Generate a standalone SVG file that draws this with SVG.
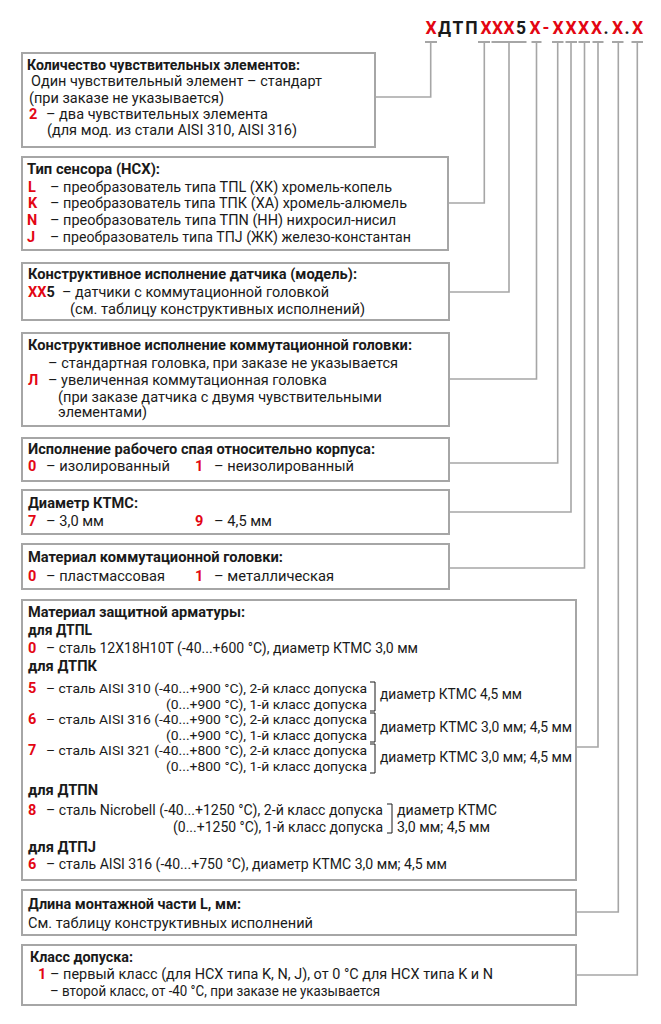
<svg xmlns="http://www.w3.org/2000/svg" width="661" height="1024" viewBox="0 0 661 1024">
<style>
.box{fill:#fff;stroke:#a6a6a6;stroke-width:2}
.ln{fill:none;stroke:#a6a6a6;stroke-width:1.6}
.tick{fill:none;stroke:#a6a6a6;stroke-width:2}
text{font-family:Roboto,"Liberation Sans",sans-serif;font-size:14.5px;fill:#1a1a1a}
.b{font-weight:bold}
.r{fill:#e30613;font-weight:bold}
.k{fill:#1a1a1a;font-weight:bold}
.s{font-size:13px}
.hd{font-size:17.5px;font-weight:900;text-anchor:middle}
.br{fill:none;stroke:#1a1a1a;stroke-width:1}
</style>
<rect width="661" height="1024" fill="#fff"/>

<g id="header">
<text class="hd" y="33.5"><tspan class="r" x="431">Х</tspan><tspan class="k" x="444.5">Д</tspan><tspan class="k" x="458">Т</tspan><tspan class="k" x="471.5">П</tspan><tspan class="r" x="486">X</tspan><tspan class="r" x="497.5">X</tspan><tspan class="r" x="509">X</tspan><tspan class="k" x="521">5</tspan><tspan class="r" x="535">X</tspan><tspan class="r" x="546">-</tspan><tspan class="r" x="558">X</tspan><tspan class="r" x="571">X</tspan><tspan class="r" x="583.5">X</tspan><tspan class="r" x="596.5">X</tspan><tspan class="k" x="606">.</tspan><tspan class="r" x="617.5">X</tspan><tspan class="k" x="627">.</tspan><tspan class="r" x="637.5">X</tspan></text>
</g>

<g id="connectors">
<path class="tick" d="M425 42H437M478 42H490M491.5 42H526.5M531.5 42H541.5M552 42H563.5M565.5 42H577M578.5 42H590M592.5 42H603.5M612 42H623.5M631.5 42H643"/>
<path class="ln" d="M430.7 42V97H375"/>
<path class="ln" d="M484.3 42V203H448"/>
<path class="ln" d="M509 42V292H449"/>
<path class="ln" d="M536.5 42V379H449"/>
<path class="ln" d="M557.7 42V463H449"/>
<path class="ln" d="M571 42V512H449"/>
<path class="ln" d="M584.5 42V568H449"/>
<path class="ln" d="M598 42V747H577"/>
<path class="ln" d="M618.3 42V912H577"/>
<path class="ln" d="M637.3 42V975H577"/>
</g>

<g id="box1">
<rect class="box" x="22" y="53" width="353" height="94"/>
<text class="b" x="27" y="70" textLength="273" lengthAdjust="spacingAndGlyphs">Количество чувствительных элементов:</text>
<text x="31" y="86" textLength="291" lengthAdjust="spacingAndGlyphs">Один чувствительный элемент – стандарт</text>
<text x="29" y="103" textLength="195" lengthAdjust="spacingAndGlyphs">(при заказе не указывается)</text>
<text class="r" x="29" y="119">2</text>
<text x="46" y="119" textLength="222" lengthAdjust="spacingAndGlyphs">– два чувствительных элемента</text>
<text x="47" y="135" textLength="250" lengthAdjust="spacingAndGlyphs">(для мод. из стали AISI 310, AISI 316)</text>
</g>

<g id="box2">
<rect class="box" x="22" y="157" width="426" height="93"/>
<text class="b" x="27" y="174" textLength="133" lengthAdjust="spacingAndGlyphs">Тип сенсора (НСХ):</text>
<text class="r" x="28" y="192">L</text>
<text x="50" y="192" textLength="342" lengthAdjust="spacingAndGlyphs">– преобразователь типа ТПL (ХК) хромель-копель</text>
<text class="r" x="28" y="208">K</text>
<text x="50" y="208" textLength="357" lengthAdjust="spacingAndGlyphs">– преобразователь типа ТПК (ХА) хромель-алюмель</text>
<text class="r" x="27" y="225">N</text>
<text x="50" y="225" textLength="346" lengthAdjust="spacingAndGlyphs">– преобразователь типа ТПN (НН) нихросил-нисил</text>
<text class="r" x="27" y="242">J</text>
<text x="50" y="242" textLength="361" lengthAdjust="spacingAndGlyphs">– преобразователь типа ТПJ (ЖК) железо-константан</text>
</g>

<g id="box3">
<rect class="box" x="22" y="263" width="427" height="57"/>
<text class="b" x="28" y="279" textLength="329" lengthAdjust="spacingAndGlyphs">Конструктивное исполнение датчика (модель):</text>
<text class="r" x="28" y="297">XX<tspan class="k">5</tspan></text>
<text x="62" y="297" textLength="267" lengthAdjust="spacingAndGlyphs">– датчики с коммутационной головкой</text>
<text x="70" y="314" textLength="295" lengthAdjust="spacingAndGlyphs">(см. таблицу конструктивных исполнений)</text>
</g>

<g id="box4">
<rect class="box" x="22" y="333" width="427" height="93"/>
<text class="b" x="28" y="350" textLength="384" lengthAdjust="spacingAndGlyphs">Конструктивное исполнение коммутационной головки:</text>
<text x="48" y="368" textLength="350" lengthAdjust="spacingAndGlyphs">– стандартная головка, при заказе не указывается</text>
<text class="r" x="28" y="385">Л</text>
<text x="48" y="385" textLength="279" lengthAdjust="spacingAndGlyphs">– увеличенная коммутационная головка</text>
<text x="58" y="402" textLength="324" lengthAdjust="spacingAndGlyphs">(при заказе датчика с двумя чувствительными</text>
<text x="58" y="417" textLength="89" lengthAdjust="spacingAndGlyphs">элементами)</text>
</g>

<g id="box5">
<rect class="box" x="22" y="438" width="427" height="43"/>
<text class="b" x="28" y="454" textLength="347" lengthAdjust="spacingAndGlyphs">Исполнение рабочего спая относительно корпуса:</text>
<text class="r" x="28" y="471">0</text>
<text x="46" y="471" textLength="124" lengthAdjust="spacingAndGlyphs">– изолированный</text>
<text class="r" x="195" y="471">1</text>
<text x="214" y="471" textLength="140" lengthAdjust="spacingAndGlyphs">– неизолированный</text>
</g>

<g id="box6">
<rect class="box" x="22" y="490" width="427" height="44"/>
<text class="b" x="28" y="508" textLength="110" lengthAdjust="spacingAndGlyphs">Диаметр КТМС:</text>
<text class="r" x="28" y="526">7</text>
<text x="46" y="526" textLength="58" lengthAdjust="spacingAndGlyphs">– 3,0 мм</text>
<text class="r" x="195" y="526">9</text>
<text x="214" y="526" textLength="58" lengthAdjust="spacingAndGlyphs">– 4,5 мм</text>
</g>

<g id="box7">
<rect class="box" x="22" y="544" width="427" height="45"/>
<text class="b" x="28" y="562" textLength="255" lengthAdjust="spacingAndGlyphs">Материал коммутационной головки:</text>
<text class="r" x="28" y="581">0</text>
<text x="46" y="581" textLength="119" lengthAdjust="spacingAndGlyphs">– пластмассовая</text>
<text class="r" x="195" y="581">1</text>
<text x="214" y="581" textLength="120" lengthAdjust="spacingAndGlyphs">– металлическая</text>
</g>

<g id="box8">
<rect class="box" x="22" y="600" width="554" height="280"/>
<text class="b" x="28" y="617" textLength="217" lengthAdjust="spacingAndGlyphs">Материал защитной арматуры:</text>
<text class="b" x="28" y="635" textLength="64" lengthAdjust="spacingAndGlyphs">для ДТПL</text>
<text class="r" x="28" y="653">0</text>
<text x="46" y="653" textLength="372" lengthAdjust="spacingAndGlyphs">– сталь 12Х18Н10Т (-40...+600 °С), диаметр КТМС 3,0 мм</text>
<text class="b" x="28" y="671" textLength="69" lengthAdjust="spacingAndGlyphs">для ДТПК</text>
<text class="r" x="28" y="693">5</text>
<text class="s" x="46" y="693" textLength="321" lengthAdjust="spacingAndGlyphs">– сталь AISI 310 (-40...+900 °С), 2-й класс допуска</text>
<text class="s" x="166" y="708.5" textLength="201" lengthAdjust="spacingAndGlyphs">(0...+900 °С), 1-й класс допуска</text>
<path class="br" d="M370 682H375V711H370"/>
<text x="380" y="699" textLength="142" lengthAdjust="spacingAndGlyphs">диаметр КТМС 4,5 мм</text>
<text class="r" x="28" y="724">6</text>
<text class="s" x="46" y="724" textLength="321" lengthAdjust="spacingAndGlyphs">– сталь AISI 316 (-40...+900 °С), 2-й класс допуска</text>
<text class="s" x="166" y="739.5" textLength="201" lengthAdjust="spacingAndGlyphs">(0...+900 °С), 1-й класс допуска</text>
<path class="br" d="M370 713H375V742H370"/>
<text x="380" y="732" textLength="192" lengthAdjust="spacingAndGlyphs">диаметр КТМС 3,0 мм; 4,5 мм</text>
<text class="r" x="28" y="755">7</text>
<text class="s" x="46" y="755" textLength="321" lengthAdjust="spacingAndGlyphs">– сталь AISI 321 (-40...+800 °С), 2-й класс допуска</text>
<text class="s" x="166" y="770.5" textLength="201" lengthAdjust="spacingAndGlyphs">(0...+800 °С), 1-й класс допуска</text>
<path class="br" d="M370 744H375V773H370"/>
<text x="380" y="762" textLength="192" lengthAdjust="spacingAndGlyphs">диаметр КТМС 3,0 мм; 4,5 мм</text>
<text class="b" x="28" y="795" textLength="70" lengthAdjust="spacingAndGlyphs">для ДТПN</text>
<text class="r" x="28" y="815">8</text>
<text x="46" y="815" textLength="337" lengthAdjust="spacingAndGlyphs">– сталь Nicrobell (-40...+1250 °С), 2-й класс допуска</text>
<text x="173" y="832" textLength="210" lengthAdjust="spacingAndGlyphs">(0...+1250 °С), 1-й класс допуска</text>
<path class="br" d="M387 804H392V833H387"/>
<text x="397" y="815" textLength="100" lengthAdjust="spacingAndGlyphs">диаметр КТМС</text>
<text x="397" y="832" textLength="93" lengthAdjust="spacingAndGlyphs">3,0 мм; 4,5 мм</text>
<text class="b" x="28" y="852" textLength="68" lengthAdjust="spacingAndGlyphs">для ДТПJ</text>
<text class="r" x="28" y="869">6</text>
<text x="46" y="869" textLength="401" lengthAdjust="spacingAndGlyphs">–  сталь AISI 316 (-40...+750 °С), диаметр КТМС 3,0 мм; 4,5 мм</text>
</g>

<g id="box9">
<rect class="box" x="22" y="890" width="554" height="45"/>
<text class="b" x="28" y="909" textLength="213" lengthAdjust="spacingAndGlyphs">Длина монтажной части L, мм:</text>
<text x="28" y="928" textLength="285" lengthAdjust="spacingAndGlyphs">См. таблицу конструктивных исполнений</text>
</g>

<g id="box10">
<rect class="box" x="22" y="945" width="554" height="60"/>
<text class="b" x="30" y="962" textLength="103" lengthAdjust="spacingAndGlyphs">Класс допуска:</text>
<text class="r" x="38" y="979">1</text>
<text x="50" y="979" textLength="443" lengthAdjust="spacingAndGlyphs">– первый класс (для НСХ типа K, N, J), от 0 °С для НСХ типа K и N</text>
<text x="50" y="996" textLength="330" lengthAdjust="spacingAndGlyphs">– второй класс, от -40 °С, при заказе не указывается</text>
</g>
</svg>
